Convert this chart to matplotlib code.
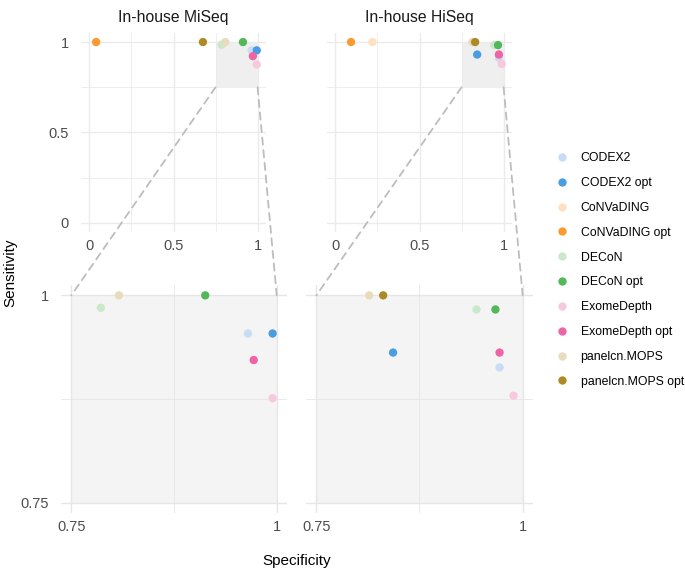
import matplotlib
matplotlib.use("Agg")
import matplotlib.pyplot as plt
from matplotlib.patches import Rectangle, ConnectionPatch
from matplotlib.lines import Line2D

plt.rcParams['font.family'] = ['Liberation Sans', 'DejaVu Sans']

methods = ["CODEX2", "CODEX2 opt", "CoNVaDING", "CoNVaDING opt", "DECoN", "DECoN opt",
           "ExomeDepth", "ExomeDepth opt", "panelcn.MOPS", "panelcn.MOPS opt"]
colors = ["#c6ddf3", "#4a9de0", "#fde1c0", "#f89b30", "#cae8ca", "#52b85a",
          "#f8c9de", "#ee64a5", "#e7dcbe", "#ac8a25"]

titles = ["In-house MiSeq", "In-house HiSeq"]
miseq_spec = [0.965, 0.995, 0.04, 0.04, 0.786, 0.913, 0.995, 0.972, 0.808, 0.675]
miseq_sens = [0.954, 0.954, 1.0, 1.0, 0.985, 1.0, 0.876, 0.922, 1.0, 1.0]
hiseq_spec = [0.972, 0.843, 0.22, 0.093, 0.944, 0.967, 0.989, 0.972, 0.814, 0.831]
hiseq_sens = [0.913, 0.931, 1.0, 1.0, 0.983, 0.983, 0.879, 0.931, 1.0, 1.0]
datasets = [(miseq_spec, miseq_sens), (hiseq_spec, hiseq_sens)]

W, H = 685, 570
fig = plt.figure(figsize=(W / 100, H / 100), dpi=100)


def ax_at(x0, y0, x1, y1):
    return fig.add_axes([x0 / W, 1 - y1 / H, (x1 - x0) / W, (y1 - y0) / H])


top_boxes = [(81, 33, 266, 232), (327, 33, 512, 232)]
bot_boxes = [(61, 285, 287, 513), (306, 285, 533, 513)]

tick_color = "#4d4d4d"
major_c = "#ebebeb"
ms = 36


def style(ax):
    for s in ax.spines.values():
        s.set_visible(False)
    ax.tick_params(length=0, labelsize=10.5, colors=tick_color)
    ax.set_axisbelow(True)


for i in range(2):
    spec, sens = datasets[i]
    # top full panel
    ax = ax_at(*top_boxes[i])
    style(ax)
    ax.set_xlim(-0.05, 1.05)
    ax.set_ylim(-0.05, 1.05)
    ax.set_xticks([0, 0.5, 1])
    ax.set_xticklabels(["0", "0.5", "1"])
    ax.set_yticks([0, 0.5, 1])
    ax.set_yticklabels(["0", "0.5", "1"] if i == 0 else [])
    ax.set_xticks([0.25, 0.75], minor=True)
    ax.set_yticks([0.25, 0.75], minor=True)
    ax.tick_params(which='minor', length=0)
    ax.grid(True, which='major', color=major_c, lw=1.0)
    ax.grid(True, which='minor', color=major_c, lw=0.6)
    ax.tick_params(axis='x', pad=5)
    ax.tick_params(axis='y', pad=9)
    ax.add_patch(Rectangle((0.75, 0.75), 0.25, 0.25, facecolor="#efefef",
                           edgecolor="none", zorder=0.5))
    for k in range(len(methods)):
        ax.scatter(spec[k], sens[k], s=ms, color=colors[k], edgecolors='none', zorder=3)
    ax.set_title(titles[i], fontsize=11.3, color="#1a1a1a", pad=8)

    # bottom zoom panel
    axb = ax_at(*bot_boxes[i])
    style(axb)
    axb.set_xlim(0.7375, 1.0125)
    axb.set_ylim(0.7375, 1.0125)
    axb.set_xticks([0.75, 1])
    axb.set_xticklabels(["0.75", "1"])
    axb.set_yticks([0.75, 1])
    axb.set_yticklabels(["0.75", "1"] if i == 0 else [])
    axb.set_xticks([0.875], minor=True)
    axb.set_yticks([0.875], minor=True)
    axb.tick_params(which='minor', length=0)
    axb.grid(True, which='major', color="#e6e6e6", lw=1.0)
    axb.grid(True, which='minor', color="#e6e6e6", lw=0.6)
    axb.tick_params(axis='x', pad=5)
    axb.tick_params(axis='y', pad=9)
    axb.add_patch(Rectangle((0.75, 0.75), 0.25, 0.25, facecolor="#f4f4f4",
                            edgecolor="none", zorder=0.5))
    for k in range(len(methods)):
        axb.scatter(spec[k], sens[k], s=ms, color=colors[k], edgecolors='none', zorder=3)

    for (xa, ya, xb, yb) in [(0.75, 0.75, 0.75, 1.0), (1.0, 0.75, 1.0, 1.0)]:
        con = ConnectionPatch(xyA=(xa, ya), coordsA=ax.transData,
                              xyB=(xb, yb), coordsB=axb.transData,
                              color="#bdbdbd", lw=1.3, linestyle=(0, (4, 3)))
        fig.add_artist(con)

fig.text(10 / W, 1 - 273 / H, "Sensitivity", rotation=90, ha='center', va='center',
         fontsize=11, color="black")
fig.text(297 / W, 1 - 561 / H, "Specificity", ha='center', va='center',
         fontsize=11, color="black")

handles = [Line2D([], [], marker='o', linestyle='none', markersize=6,
                  markerfacecolor=c, markeredgecolor='none') for c in colors]
fig.legend(handles, methods, loc='center left', bbox_to_anchor=(550 / W, 1 - 270 / H),
           frameon=False, fontsize=8.8, labelspacing=1.05, handletextpad=0.9,
           handlelength=1.2, borderaxespad=0)

fig.savefig("out.png", dpi=100)
